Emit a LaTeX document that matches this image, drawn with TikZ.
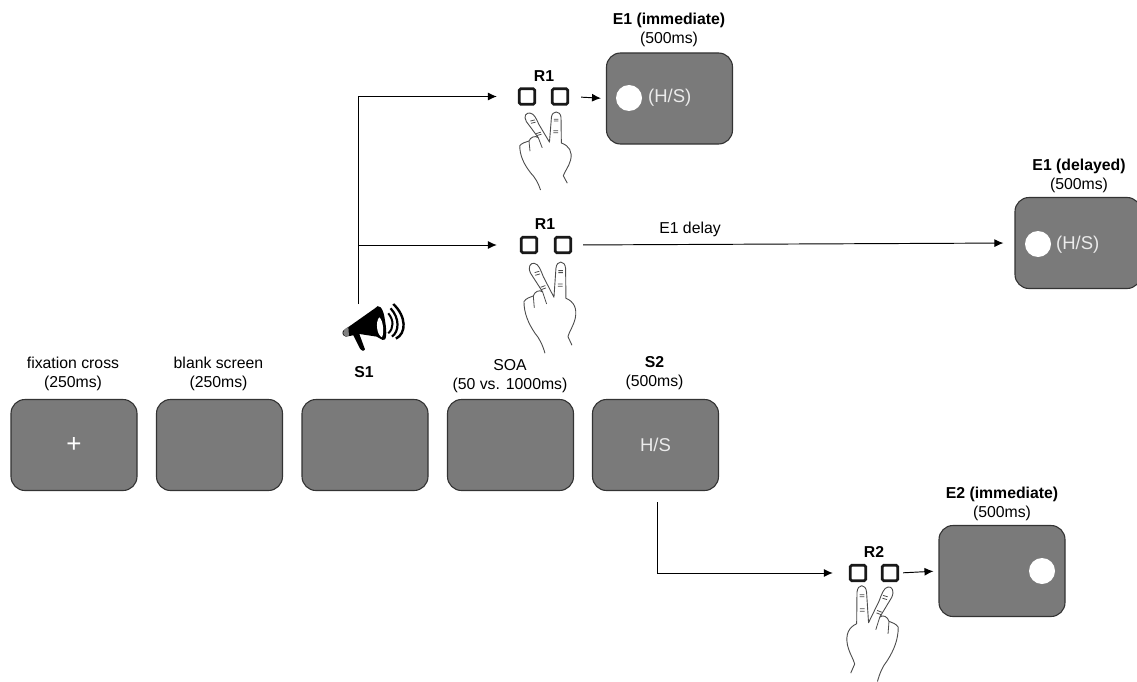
\documentclass[tikz,border=0pt]{standalone}
\usepackage{fontspec}
\setmainfont{Liberation Sans}
\usetikzlibrary{arrows.meta}
\tikzset{
  hand/.pic={
    \draw[line width=0.9pt,color=black!70,line join=round]
      (135,400) .. controls (128,375) and (118,355) .. (105,340)
      .. controls (85,310) and (72,280) .. (72,245)
      .. controls (78,235) and (90,232) .. (100,228)
      .. controls (104,215) and (118,208) .. (128,216)
      -- (92,160) .. controls (82,140) and (92,128) .. (103,130)
      .. controls (116,132) and (122,150) .. (130,170)
      -- (162,232) -- (168,145) .. controls (170,120) and (195,120) .. (197,145)
      -- (198,235) .. controls (222,245) and (232,265) .. (226,295)
      .. controls (220,320) and (208,335) .. (204,350)
      -- (216,376);
    \draw[line width=0.8pt,color=black!70]
      (100,228) -- (103,264) (128,216) -- (140,252)
      (104,158) -- (118,154) (106,166) -- (120,162)
      (122,202) -- (136,197) (124,209) -- (138,204)
      (175,152) -- (189,152) (175,158) -- (189,158)
      (174,192) -- (188,192) (174,199) -- (188,199);
  },
  megaphone/.pic={
    \fill[black] (70,122) -- (165,55) .. controls (175,40) and (190,50) .. (195,90)
      .. controls (202,130) and (200,155) .. (188,150)
      -- (170,140) -- (118,132) -- (135,178) .. controls (132,186) and (122,182) .. (118,172)
      -- (100,136) -- (78,140) .. controls (66,138) and (66,126) .. (70,122) -- cycle;
    \fill[gray] (74,118) .. controls (68,124) and (68,134) .. (76,139) -- (87,137) -- (85,110) -- cycle;
    \fill[white] (178,82) .. controls (166,95) and (170,135) .. (186,142)
      .. controls (193,130) and (190,90) .. (178,82) -- cycle;
    \draw[line width=2pt] (205,70) .. controls (222,90) and (222,115) .. (205,130);
    \draw[line width=2.2pt] (212,55) .. controls (240,85) and (238,125) .. (216,140);
    \draw[line width=2.4pt] (220,42) .. controls (260,80) and (260,130) .. (228,146);
  }
}
\begin{document}
\begin{tikzpicture}%
  [x=1pt,y=-1pt,font=\fontsize{15.8}{19}\selectfont]
  \tikzstyle{screen node}=[rectangle,draw=black!80,fill=black!52,rounded corners=14pt,minimum width=126pt,minimum height=91pt,line width=1.1pt,text=white!92!black,inner sep=0,font=\fontsize{18.5}{20}\selectfont]
  \tikzstyle{label node}=[align=center,inner sep=0]
  \tikzstyle{key node}=[rectangle,draw=black!90,fill=white,rounded corners=1.5pt,line width=2.8pt,minimum size=15.5pt,inner sep=0]
  \tikzstyle{dot node}=[circle,fill=white,minimum size=26pt,inner sep=0]
  \tikzstyle{link}=[line width=0.95pt,-{Latex[length=9pt,width=8pt]}]
  \useasboundingbox (0,0) rectangle (1137,682);
  % bottom row of screens
  \node(fix)[screen node] at (74,445){\textcolor{white}{\fontsize{26}{26}\selectfont +}};
  \node(blank)[screen node] at (219.5,445){};
  \node(s1)[screen node] at (365,445){};
  \node(soa)[screen node] at (510.5,445){};
  \node(s2)[screen node] at (655.5,445){H/S};
  \node(fixlab)[label node] at (73,374){fixation cross\\(250ms)};
  \node(blanklab)[label node] at (218.5,374){blank screen\\(250ms)};
  \node(s1lab)[label node] at (364,372){\bfseries S1};
  \node(soalab)[label node] at (510,376){SOA\\(50 vs. 1000ms)};
  \node(s2lab)[label node] at (654.5,373.5){\bfseries S2\\(500ms)};
  % feedback screens
  \node(e1i)[screen node] at (669.5,98.5){};
  \node(e1d)[screen node] at (1078,243){};
  \node(e2)[screen node] at (1002,571){};
  \node(e1idot)[dot node] at (629,98){};
  \node(e1itxt)[inner sep=0,text=white!92!black,anchor=west,font=\fontsize{18.5}{20}\selectfont] at (648,98){(H/S)};
  \node(e1ddot)[dot node] at (1038,244){};
  \node(e1dtxt)[inner sep=0,text=white!92!black,anchor=west,font=\fontsize{18.5}{20}\selectfont] at (1056,245){(H/S)};
  \node(e2dot)[dot node] at (1042,571){};
  \node(e1ilab)[label node] at (669,30){\bfseries E1 (immediate)\\(500ms)};
  \node(e1dlab)[label node] at (1079,175.5){\bfseries E1 (delayed)\\(500ms)};
  \node(e2lab)[label node] at (1002,503.5){\bfseries E2 (immediate)\\(500ms)};
  % response keys
  \pic at (496,76) [xscale=0.33,yscale=0.285,x=1pt,y=-1pt] {hand};
  \pic at (500,220) [scale=0.333,x=1pt,y=-1pt] {hand};
  \pic at (922,541.5) [xscale=-0.33,yscale=0.35,x=1pt,y=-1pt] {hand};
  \node(ka1)[key node] at (527,96.5){};
  \node(ka2)[key node] at (560,96.5){};
  \node(kb1)[key node] at (529,245){};
  \node(kb2)[key node] at (563,245){};
  \node(kc1)[key node] at (858,573){};
  \node(kc2)[key node] at (890,573){};
  \node(r1a)[label node] at (544,76){\bfseries R1};
  \node(r1b)[label node] at (545,224){\bfseries R1};
  \node(r2)[label node] at (874,552){\bfseries R2};
  \node(delay)[inner sep=0] at (690,229){E1 delay};
  % connectors
  \coordinate(s1top) at (358,304);
  \coordinate(s1mid) at (358,245);
  \coordinate(s2out) at (657,502);
  \pic at (320,290) [scale=0.333,x=1pt,y=-1pt] {megaphone};
  \draw[link,shorten >=21pt] (s1top) |- (ka1.west);
  \draw[link,shorten >=23pt] (s1mid) -- (kb1.west);
  \draw[link,shorten >=16pt] (s2out) |- (kc1.west);
  \draw[link,shorten <=12pt,shorten >=5pt] (ka2.east) -- (e1i.west);
  \draw[link,shorten <=11pt,shorten >=11pt] (kb2.east) -- (e1d.west);
  \draw[link,shorten <=4pt,shorten >=5pt] (kc2.east) -- (e2.west);
\end{tikzpicture}
\end{document}
